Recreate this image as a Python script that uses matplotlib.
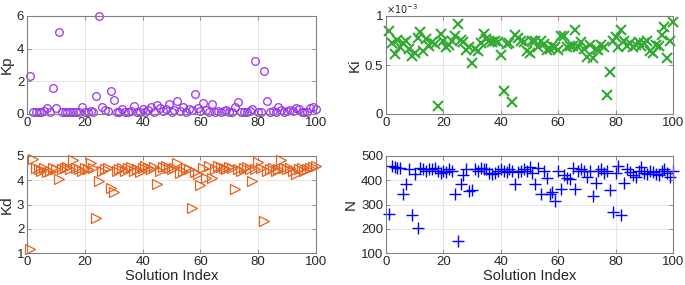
import numpy as np
import matplotlib
matplotlib.use("Agg")
import matplotlib.pyplot as plt

plt.rcParams['font.family'] = ['Liberation Sans', 'DejaVu Sans']

idx = np.arange(1, 101)

kp = [2.3, 0.12, 0.1, 0.15, 0.12, 0.2, 0.35, 0.15, 1.6, 0.38,
      5.05, 0.12, 0.15, 0.1, 0.12, 0.15, 0.1, 0.12, 0.4, 0.15,
      0.12, 0.2, 0.12, 1.1, 5.98, 0.42, 0.25, 0.2, 1.38, 0.88,
      0.15, 0.12, 0.28, 0.15, 0.1, 0.2, 0.5, 0.15, 0.1, 0.3,
      0.15, 0.25, 0.45, 0.1, 0.55, 0.35, 0.2, 0.3, 0.62, 0.15,
      0.25, 0.82, 0.2, 0.45, 0.15, 0.3, 0.25, 1.2, 0.35, 0.2,
      0.65, 0.25, 0.15, 0.6, 0.1, 0.2, 0.15, 0.2, 0.25, 0.15,
      0.12, 0.45, 0.75, 0.1, 0.15, 0.12, 0.2, 0.3, 3.25, 0.12,
      0.15, 2.65, 0.8, 0.12, 0.2, 0.15, 0.42, 0.25, 0.1, 0.2,
      0.25, 0.2, 0.35, 0.3, 0.12, 0.1, 0.15, 0.38, 0.42, 0.3]

# Ki in units of 1e-3
ki = [0.85, 0.72, 0.61, 0.76, 0.68, 0.72, 0.75, 0.66, 0.59, 0.62,
      0.78, 0.84, 0.64, 0.77, 0.69, 0.73, 0.71, 0.08, 0.82, 0.75,
      0.68, 0.70, 0.74, 0.80, 0.92, 0.76, 0.73, 0.65, 0.68, 0.52,
      0.66, 0.64, 0.72, 0.82, 0.77, 0.75, 0.73, 0.74, 0.73, 0.60,
      0.23, 0.71, 0.72, 0.12, 0.81, 0.78, 0.75, 0.73, 0.64, 0.62,
      0.74, 0.74, 0.68, 0.75, 0.71, 0.65, 0.66, 0.69, 0.68, 0.65,
      0.80, 0.80, 0.68, 0.69, 0.69, 0.86, 0.68, 0.73, 0.66, 0.58,
      0.70, 0.57, 0.66, 0.65, 0.70, 0.68, 0.19, 0.43, 0.74, 0.79,
      0.68, 0.86, 0.75, 0.69, 0.72, 0.68, 0.70, 0.73, 0.69, 0.72,
      0.75, 0.64, 0.62, 0.70, 0.69, 0.81, 0.89, 0.57, 0.75, 0.94]

kd = [1.15, 4.88, 4.5, 4.45, 4.4, 4.5, 4.35, 4.4, 4.5, 4.45,
      4.05, 4.45, 4.5, 4.55, 4.45, 4.85, 4.5, 4.45, 4.4, 4.5,
      4.45, 4.7, 4.5, 2.45, 3.95, 4.4, 4.45, 4.5, 3.7, 3.5,
      4.4, 4.45, 4.5, 4.4, 4.5, 4.55, 4.4, 4.45, 4.35, 4.5,
      4.6, 4.5, 4.45, 4.55, 3.85, 4.4, 4.55, 4.6, 4.5, 4.45,
      4.5, 4.72, 4.3, 4.4, 4.5, 4.45, 2.85, 4.35, 4.25, 3.8,
      4.5, 4.1, 4.6, 4.1, 4.45, 4.6, 4.55, 4.5, 4.45, 4.55,
      4.5, 3.65, 4.45, 4.4, 4.5, 4.55, 4.45, 3.95, 4.45, 4.75,
      4.5, 2.3, 4.4, 4.45, 4.5, 4.4, 4.45, 4.85, 4.5, 4.45,
      4.5, 4.4, 4.25, 4.45, 4.5, 4.4, 4.45, 4.5, 4.55, 4.6]

n = [262, 458, 455, 452, 450, 345, 385, 445, 258, 425,
     205, 450, 445, 440, 448, 445, 450, 440, 430, 440,
     435, 445, 440, 345, 150, 385, 420, 445, 355, 358,
     445, 440, 450, 445, 445, 430, 425, 430, 440, 445,
     440, 435, 445, 440, 385, 435, 440, 445, 440, 455,
     430, 385, 450, 345, 440, 410, 345, 350, 315, 440,
     365, 420, 410, 405, 450, 365, 440, 445, 440, 415,
     440, 335, 390, 440, 445, 430, 440, 360, 270, 430,
     460, 255, 390, 445, 435, 420, 415, 440, 455, 430,
     425, 440, 435, 425, 420, 440, 445, 430, 415, 440]

fig = plt.figure(figsize=(6.85, 2.85), dpi=100)
W, H = 685, 285


def make_ax(x0, y0, x1, y1):
    return fig.add_axes([x0 / W, 1 - y1 / H, (x1 - x0) / W, (y1 - y0) / H])


def style(ax, ylim, yticks, ylabel, xlabel=None):
    ax.set_xlim(0, 100)
    ax.set_ylim(*ylim)
    ax.set_xticks(np.arange(0, 101, 20))
    ax.set_yticks(yticks)
    ax.grid(True, color='#e6e6e6', linewidth=0.7)
    ax.set_axisbelow(True)
    for s in ax.spines.values():
        s.set_color('#808080')
        s.set_linewidth(0.8)
    ax.tick_params(direction='in', length=3, width=0.6, color='#808080',
                   labelsize=9.5, labelcolor='#262626', top=True, right=True, pad=2)
    ax.set_ylabel(ylabel, fontsize=11, color='#262626', labelpad=2)
    if xlabel:
        ax.set_xlabel(xlabel, fontsize=10.5, color='#262626', labelpad=1)


ax1 = make_ax(27, 16, 316, 114)
ax1.plot(idx, kp, 'o', mfc='none', mec='#9933ee', ms=5.5, mew=0.9, clip_on=False)
style(ax1, (0, 6), [0, 2, 4, 6], 'Kp')

ax2 = make_ax(386, 16, 673, 114)
ax2.plot(idx, ki, 'x', color='#33aa33', ms=6.5, mew=1.5, clip_on=False)
style(ax2, (0, 1), [0, 0.5, 1], 'Ki')
ax2.set_yticklabels(['0', '0.5', '1'])
ax2.text(0, 1.005, r'$\times10^{-3}$', transform=ax2.transAxes, fontsize=7,
         color='#262626', va='bottom', ha='left')

ax3 = make_ax(27, 156, 316, 253)
ax3.plot(idx, kd, '>', mfc='none', mec='#e8601c', ms=7, mew=0.9, clip_on=False)
style(ax3, (1, 5), [1, 2, 3, 4, 5], 'Kd', 'Solution Index')

ax4 = make_ax(386, 156, 673, 253)
ax4.plot(idx, n, '+', color='#0000ff', ms=8, mew=1.0, clip_on=False)
style(ax4, (100, 500), [100, 200, 300, 400, 500], 'N', 'Solution Index')

fig.savefig('out.png', dpi=100)
